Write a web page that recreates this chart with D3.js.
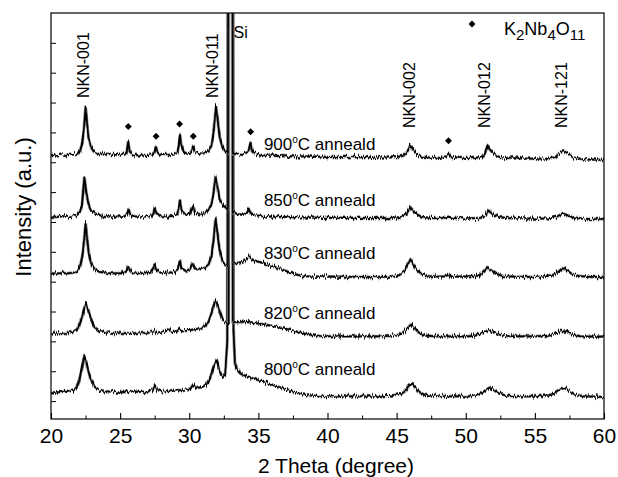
<!DOCTYPE html>
<html>
<head>
<meta charset="utf-8">
<script src="https://cdn.jsdelivr.net/npm/d3@7"></script>
<style>
  body { margin: 0; background: #fff; }
  text { font-family: "Liberation Sans", Arial, sans-serif; fill: #000; }
</style>
</head>
<body>
<div id="chart"></div>
<script>
// ---------------- DATA ----------------
const xTicks = [20, 25, 30, 35, 40, 45, 50, 55, 60];
const xMinorTicks = [22.5, 27.5, 32.5, 37.5, 42.5, 47.5, 52.5, 57.5];
const yTicks = [0, 1, 2, 3, 4, 5, 6, 7, 8, 9, 10, 11, 12];

const sampleNames = ["800", "820", "830", "850", "900"];
const sampleOffsets = [0, 2, 4, 6, 8];

// [2 theta, intensity (a.u.)]
const trace800 = [[20,0.3],[20.4,0.29],[20.8,0.31],[21.2,0.31],[21.6,0.35],[21.85,0.45],[22.05,0.7],[22.22,1.1],[22.41,1.5],[22.55,1.32],[22.72,0.98],[22.9,0.68],[23.15,0.48],[23.5,0.37],[24,0.33],[24.6,0.31],[25.2,0.34],[25.7,0.33],[26.3,0.31],[27,0.32],[27.35,0.38],[27.5,0.53],[27.65,0.38],[28,0.33],[28.6,0.33],[29.2,0.36],[29.7,0.38],[30.1,0.42],[30.3,0.57],[30.5,0.44],[30.9,0.46],[31.2,0.55],[31.5,0.75],[31.75,1.15],[31.98,1.39],[32.15,1.1],[32.3,0.88],[32.45,0.8],[32.6,0.9],[32.75,2],[32.88,40],[33.1,40],[33.2,2.4],[33.3,1.3],[33.45,1.05],[33.7,0.92],[34,0.86],[34.5,0.78],[35,0.7],[35.5,0.62],[36,0.55],[36.5,0.47],[37,0.4],[37.5,0.32],[38,0.24],[38.6,0.19],[39.5,0.17],[40.5,0.16],[42,0.16],[43.5,0.16],[44.5,0.18],[45.2,0.23],[45.6,0.36],[45.9,0.52],[46.05,0.59],[46.3,0.48],[46.6,0.32],[47,0.21],[47.8,0.17],[49,0.16],[50.2,0.16],[50.9,0.2],[51.3,0.32],[51.7,0.45],[52,0.38],[52.4,0.25],[53,0.18],[54,0.16],[55,0.16],[56,0.19],[56.5,0.27],[56.9,0.4],[57.15,0.44],[57.5,0.34],[57.9,0.22],[58.5,0.16],[59.3,0.15],[60,0.14]];

const trace820 = [[20,0.27],[20.4,0.26],[20.8,0.28],[21.2,0.28],[21.6,0.32],[21.9,0.42],[22.1,0.6],[22.3,0.92],[22.53,1.27],[22.7,1.05],[22.9,0.72],[23.15,0.48],[23.5,0.35],[24,0.3],[24.6,0.28],[25.2,0.28],[25.8,0.27],[26.4,0.28],[27,0.28],[27.4,0.33],[27.5,0.38],[27.65,0.3],[28,0.3],[28.4,0.36],[28.55,0.4],[28.7,0.32],[29.1,0.33],[29.3,0.42],[29.5,0.34],[29.9,0.36],[30.3,0.4],[30.7,0.42],[31.1,0.5],[31.4,0.66],[31.65,1.0],[31.9,1.37],[32.1,1.15],[32.3,0.85],[32.5,0.68],[32.7,0.62],[32.85,0.6],[32.9,40],[33.1,40],[33.15,0.66],[33.5,0.64],[34,0.66],[34.5,0.63],[35,0.6],[35.5,0.56],[36,0.52],[36.5,0.47],[37,0.42],[37.5,0.36],[38,0.3],[38.5,0.24],[39,0.2],[39.5,0.18],[40.5,0.17],[42,0.17],[43.5,0.17],[44.5,0.18],[45.2,0.23],[45.6,0.35],[45.9,0.5],[46.05,0.56],[46.3,0.45],[46.6,0.3],[47,0.2],[47.8,0.17],[49,0.17],[50.2,0.17],[50.9,0.21],[51.3,0.31],[51.7,0.38],[52,0.33],[52.4,0.23],[53,0.18],[54,0.17],[55,0.17],[56,0.19],[56.5,0.26],[56.9,0.35],[57.3,0.32],[57.7,0.23],[58.3,0.17],[59.2,0.16],[60,0.16]];

const trace830 = [[20,0.28],[20.4,0.27],[20.8,0.29],[21.2,0.28],[21.6,0.3],[21.9,0.36],[22.1,0.5],[22.28,0.9],[22.4,1.4],[22.5,1.96],[22.6,1.5],[22.72,1.0],[22.9,0.62],[23.15,0.42],[23.5,0.33],[24,0.29],[24.6,0.28],[25.2,0.28],[25.45,0.34],[25.6,0.51],[25.75,0.34],[26,0.29],[26.6,0.28],[27.2,0.3],[27.4,0.42],[27.5,0.58],[27.62,0.4],[27.9,0.31],[28.5,0.3],[29,0.33],[29.2,0.45],[29.32,0.68],[29.45,0.45],[29.75,0.36],[30.05,0.42],[30.22,0.62],[30.38,0.45],[30.7,0.4],[31.1,0.46],[31.4,0.58],[31.6,0.85],[31.75,1.35],[31.9,2.09],[32.05,1.6],[32.2,1.05],[32.4,0.7],[32.6,0.55],[32.8,0.55],[32.9,40],[33.1,40],[33.15,0.6],[33.4,0.62],[33.8,0.66],[34.1,0.72],[34.35,0.85],[34.55,0.74],[34.9,0.68],[35.4,0.62],[36,0.52],[36.5,0.44],[37,0.36],[37.5,0.27],[38,0.21],[38.6,0.18],[39.5,0.17],[40.5,0.17],[42,0.16],[43.5,0.16],[44.5,0.17],[45.2,0.22],[45.6,0.38],[45.85,0.62],[45.98,0.76],[46.15,0.62],[46.4,0.42],[46.8,0.26],[47.3,0.19],[48,0.17],[48.5,0.18],[48.75,0.23],[49,0.17],[50,0.17],[50.9,0.2],[51.3,0.32],[51.6,0.49],[51.85,0.38],[52.2,0.26],[52.7,0.19],[53.5,0.17],[54.5,0.16],[55.5,0.17],[56.3,0.22],[56.7,0.33],[57,0.45],[57.3,0.38],[57.7,0.26],[58.2,0.19],[59,0.16],[60,0.16]];

const trace850 = [[20,0.18],[20.4,0.17],[20.8,0.19],[21.2,0.18],[21.6,0.2],[21.9,0.24],[22.1,0.34],[22.25,0.6],[22.41,1.49],[22.55,1.0],[22.7,0.62],[22.9,0.4],[23.2,0.28],[23.6,0.22],[24.1,0.19],[24.7,0.18],[25.3,0.18],[25.5,0.26],[25.62,0.41],[25.75,0.24],[26,0.19],[26.6,0.18],[27.2,0.19],[27.4,0.3],[27.5,0.45],[27.62,0.3],[27.9,0.2],[28.5,0.19],[29.1,0.22],[29.25,0.45],[29.33,0.72],[29.43,0.4],[29.7,0.25],[30.05,0.28],[30.27,0.55],[30.4,0.32],[30.7,0.26],[31.1,0.3],[31.4,0.4],[31.6,0.6],[31.75,0.95],[31.9,1.52],[32.05,1.15],[32.2,0.75],[32.4,0.55],[32.6,0.5],[32.8,0.4],[32.9,40],[33.1,40],[33.15,0.35],[33.5,0.26],[33.9,0.24],[34.15,0.3],[34.3,0.41],[34.45,0.3],[34.8,0.22],[35.5,0.19],[36.5,0.17],[37.5,0.16],[38.5,0.15],[40,0.14],[41.5,0.14],[43,0.13],[44.5,0.13],[45.3,0.16],[45.7,0.26],[45.98,0.5],[46.2,0.38],[46.5,0.24],[46.9,0.16],[47.6,0.13],[48.4,0.13],[48.75,0.18],[49.1,0.13],[50.2,0.12],[51.1,0.14],[51.45,0.25],[51.65,0.38],[51.9,0.28],[52.3,0.17],[53,0.13],[54,0.12],[55,0.11],[56,0.12],[56.6,0.18],[57,0.28],[57.3,0.24],[57.7,0.16],[58.5,0.11],[59.3,0.1],[60,0.1]];

const trace900 = [[20,0.25],[20.4,0.23],[20.8,0.26],[21.2,0.24],[21.6,0.26],[21.9,0.29],[22.1,0.38],[22.25,0.62],[22.38,1.1],[22.5,1.86],[22.6,1.35],[22.72,0.8],[22.88,0.5],[23.1,0.36],[23.4,0.29],[23.8,0.26],[24.3,0.24],[24.8,0.26],[25.3,0.25],[25.48,0.34],[25.59,0.69],[25.7,0.36],[25.9,0.26],[26.4,0.23],[26.9,0.25],[27.35,0.26],[27.5,0.38],[27.6,0.51],[27.7,0.33],[27.9,0.25],[28.4,0.24],[28.9,0.26],[29.15,0.33],[29.25,0.6],[29.33,0.92],[29.42,0.6],[29.6,0.34],[29.9,0.28],[30.15,0.34],[30.29,0.55],[30.4,0.36],[30.7,0.29],[31.1,0.3],[31.4,0.38],[31.6,0.55],[31.75,0.95],[31.93,1.88],[32.05,1.45],[32.2,0.85],[32.4,0.5],[32.6,0.38],[32.8,0.3],[32.9,40],[33.1,40],[33.15,0.3],[33.5,0.26],[33.9,0.25],[34.25,0.35],[34.42,0.62],[34.55,0.4],[34.8,0.29],[35.3,0.24],[36,0.22],[37,0.2],[38,0.2],[39,0.19],[40,0.18],[41,0.18],[42,0.17],[43,0.17],[44,0.16],[45,0.17],[45.5,0.22],[45.75,0.34],[45.95,0.56],[46.15,0.46],[46.4,0.3],[46.8,0.19],[47.4,0.16],[48.2,0.15],[48.6,0.2],[48.75,0.28],[48.9,0.18],[49.5,0.15],[50.5,0.14],[51.2,0.17],[51.4,0.3],[51.55,0.58],[51.75,0.42],[52,0.3],[52.4,0.18],[53,0.14],[53.5,0.17],[54,0.13],[55,0.12],[56,0.12],[56.5,0.18],[56.9,0.33],[57.1,0.38],[57.4,0.28],[57.8,0.16],[58.5,0.1],[59.3,0.09],[60,0.08]];

const traces = [trace800, trace820, trace830, trace850, trace900];

const peakNames = ["NKN-001", "NKN-011", "NKN-002", "NKN-012", "NKN-121"];
const peakTheta = [22.28, 31.68, 45.9, 51.3, 56.9];

// K2Nb4O11 reflections marked on the 900 °C pattern
const impurityTheta = [25.59, 27.6, 29.3, 30.29, 34.44, 48.75];
const impurityLevel = [9.2, 8.87, 9.28, 8.87, 9.02, 8.72];

// ---------------- LAYOUT ----------------
const width = 618, height = 477;
const margin = {top: 13, right: 14, bottom: 58, left: 51};

const x = d3.scaleLinear().domain([20, 60]).range([margin.left, width - margin.right]);
const y = d3.scaleLinear().domain([-0.6, 13.0]).range([height - margin.bottom, margin.top]);

const svg = d3.select("#chart").append("svg")
  .attr("width", width)
  .attr("height", height);

const defs = svg.append("defs");
defs.append("clipPath").attr("id", "plot-clip")
  .append("rect")
  .attr("x", margin.left).attr("y", margin.top)
  .attr("width", width - margin.left - margin.right)
  .attr("height", height - margin.top - margin.bottom);

// detector-noise look for the traces (line style only, vertical jitter)
const fuzz = defs.append("filter").attr("id", "fuzz")
  .attr("filterUnits", "userSpaceOnUse")
  .attr("x", 0).attr("y", 0).attr("width", width).attr("height", height);
fuzz.append("feTurbulence")
  .attr("type", "fractalNoise")
  .attr("baseFrequency", "0.9 0.08")
  .attr("numOctaves", 2)
  .attr("seed", 4)
  .attr("result", "noise");
fuzz.append("feColorMatrix")
  .attr("in", "noise")
  .attr("type", "matrix")
  .attr("values", "0 0 0 0 0.5  0 1 0 0 0  0 0 1 0 0  0 0 0 0 1")
  .attr("result", "vnoise");
fuzz.append("feDisplacementMap")
  .attr("in", "SourceGraphic")
  .attr("in2", "vnoise")
  .attr("scale", 7)
  .attr("xChannelSelector", "R")
  .attr("yChannelSelector", "G");

// ---------------- AXES ----------------
const xAxis = svg.append("g")
  .attr("transform", `translate(0,${height - margin.bottom})`)
  .call(d3.axisBottom(x).tickValues(xTicks).tickSize(-6).tickSizeOuter(0).tickPadding(9));
xAxis.select(".domain").remove();
xAxis.selectAll("text").style("font-size", "21px");
xAxis.selectAll("line").attr("stroke-width", 1.1);

const xMinor = svg.append("g")
  .attr("transform", `translate(0,${height - margin.bottom})`)
  .call(d3.axisBottom(x).tickValues(xMinorTicks).tickSize(-3.5).tickSizeOuter(0).tickFormat(""));
xMinor.select(".domain").remove();

const yAxis = svg.append("g")
  .attr("transform", `translate(${margin.left},0)`)
  .call(d3.axisLeft(y).tickValues(yTicks).tickSize(-5).tickSizeOuter(0).tickFormat(""));
yAxis.select(".domain").remove();

// ---------------- TRACES ----------------
const plot = svg.append("g").attr("clip-path", "url(#plot-clip)");
const noisy = plot.append("g").attr("filter", "url(#fuzz)");

traces.forEach((tr, i) => {
  const line = d3.line()
    .x(d => x(d[0]))
    .y(d => y(d[1] + sampleOffsets[i]));
  noisy.append("path")
    .attr("d", line(tr))
    .attr("fill", "none")
    .attr("stroke", "#8c8c8c")
    .attr("stroke-width", 3)
    .attr("stroke-linejoin", "round");
  noisy.append("path")
    .attr("d", line(tr))
    .attr("fill", "none")
    .attr("stroke", "#000")
    .attr("stroke-width", 1.7)
    .attr("stroke-linejoin", "round");
});

// frame
svg.append("rect")
  .attr("x", margin.left).attr("y", margin.top)
  .attr("width", width - margin.left - margin.right)
  .attr("height", height - margin.top - margin.bottom)
  .attr("fill", "none")
  .attr("stroke", "#000")
  .attr("stroke-width", 1.2);

// ---------------- LABELS ----------------
const labelLift = [0.87, 0.74, 0.75, 0.54, 0.41];
sampleNames.forEach((name, i) => {
  const t = svg.append("text")
    .attr("x", x(35.4))
    .attr("y", y(sampleOffsets[i] + labelLift[i]))
    .style("font-size", "17px");
  t.append("tspan").text(name);
  t.append("tspan").attr("dy", -7).style("font-size", "10px").text("o");
  t.append("tspan").attr("dy", 7).text("C anneald");
});

// peak labels (rotated)
peakNames.forEach((name, i) => {
  const px = x(peakTheta[i]);
  const py = i < 2 ? 98 : 128;
  svg.append("text")
    .attr("transform", `translate(${px + 6},${py}) rotate(-90)`)
    .style("font-size", "16px")
    .text(name);
});

svg.append("text")
  .attr("x", x(33.2)).attr("y", 38)
  .style("font-size", "16px")
  .text("Si");

// impurity markers
const diamond = d3.symbol().type(d3.symbolSquare).size(24);
impurityTheta.forEach((t, i) => {
  svg.append("path")
    .attr("d", diamond())
    .attr("transform", `translate(${x(t)},${y(impurityLevel[i])}) rotate(45)`)
    .attr("fill", "#000");
});

// legend
svg.append("path")
  .attr("d", diamond())
  .attr("transform", `translate(472,24) rotate(45)`)
  .attr("fill", "#000");
const leg = svg.append("text").attr("x", 504).attr("y", 35).style("font-size", "18px");
leg.append("tspan").text("K");
leg.append("tspan").attr("dy", 5).style("font-size", "15px").text("2");
leg.append("tspan").attr("dy", -5).text("Nb");
leg.append("tspan").attr("dy", 5).style("font-size", "15px").text("4");
leg.append("tspan").attr("dy", -5).text("O");
leg.append("tspan").attr("dy", 5).style("font-size", "15px").text("11");

// axis titles
svg.append("text")
  .attr("x", 336).attr("y", 473)
  .attr("text-anchor", "middle")
  .style("font-size", "21px")
  .text("2 Theta (degree)");

svg.append("text")
  .attr("transform", `translate(31,207) rotate(-90)`)
  .attr("text-anchor", "middle")
  .style("font-size", "22px")
  .text("Intensity (a.u.)");
</script>
</body>
</html>
